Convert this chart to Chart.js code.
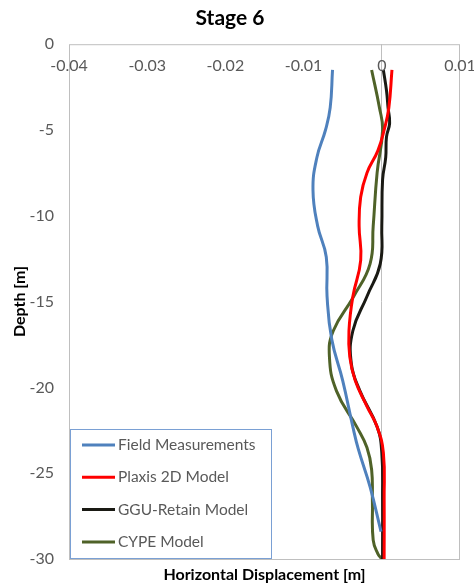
<!DOCTYPE html>
<html>
<head>
<meta charset="utf-8">
<script src="https://cdn.jsdelivr.net/npm/chart.js@4.4.1/dist/chart.umd.min.js"></script>
<style>
  html, body { margin: 0; padding: 0; background: #fff; }
  #wrap { width: 474px; height: 586px; }
</style>
</head>
<body>
<div id="wrap"><canvas id="chart" width="474" height="586"></canvas></div>
<script>
// valeurs (profondeur en m, deplacement en m)
const fieldDepth = [-1.5, -3.7, -5.0, -6.6, -8.5, -10.6, -12.4, -14.7, -17.2, -19.6, -22.3, -23.6, -25.8, -28.4];
const fieldDisp  = [-0.0063, -0.0066, -0.0072, -0.0083, -0.0088, -0.0082, -0.0071, -0.0070, -0.0064, -0.0050, -0.0037, -0.0030, -0.0015, -0.0001];

const plaxisDepth = [-1.5, -3.7, -5.0, -6.2, -7.5, -8.9, -10.6, -12.6, -14.7, -16.7, -18.2, -19.6, -21.1, -22.3, -23.8, -26.5, -30];
const plaxisDisp  = [0.0013, 0.0009, 0.0003, -0.0005, -0.0019, -0.0027, -0.0029, -0.0027, -0.0037, -0.0042, -0.0041, -0.0034, -0.0019, -0.0006, 0.0002, 0.0003, 0.0003];

const gguDepth = [-1.5, -2.7, -3.7, -4.6, -5.4, -6.6, -7.9, -10.6, -12.8, -14.7, -16.7, -18.6, -20.2, -22.3, -23.8, -26.5, -30];
const gguDisp  = [0.0002, 0.0006, 0.0008, 0.0010, 0.0006, 0.0005, 0.0001, 0.0000, -0.0002, -0.0019, -0.0037, -0.0039, -0.0028, -0.0006, 0.0000, 0.0001, 0.0001];

const cypeDepth = [-1.5, -3.7, -5.0, -7.5, -10.6, -12.8, -14.7, -16.7, -18.2, -20.2, -22.3, -23.5, -24.8, -26.7, -28.9, -29.7, -30];
const cypeDisp  = [-0.0013, -0.0003, 0.0001, -0.0006, -0.0011, -0.0015, -0.0036, -0.0062, -0.0067, -0.0058, -0.0032, -0.0019, -0.0013, -0.0012, -0.0011, -0.0005, 0.0000];

const seriesNames  = ['Field Measurements', 'Plaxis 2D Model', 'GGU-Retain Model', 'CYPE Model'];
const seriesColors = ['#4f81bd', '#ff0000', '#1a1a14', '#4f6228'];

const xTickValues = [-0.04, -0.03, -0.02, -0.01, 0, 0.01];
const xTickLabels = ['-0.04', '-0.03', '-0.02', '-0.01', '0', '0.01'];

const FONT = 'Lato, Calibri, "Noto Sans", sans-serif';
const TXT = '#595959';

function toPoints(depth, disp) {
    return depth.map((d, i) => ({ x: disp[i], y: d }));
}

const allDepth = [fieldDepth, plaxisDepth, gguDepth, cypeDepth];
const allDisp = [fieldDisp, plaxisDisp, gguDisp, cypeDisp];

// cadre de la zone de tracé + etiquettes x sous l'axe du haut + légende
const excelDeco = {
    id: 'excelDeco',
    beforeDatasetsDraw(chart) {
        const ctx = chart.ctx;
        const a = chart.chartArea;
        ctx.save();
        ctx.strokeStyle = '#bfbfbf';
        ctx.lineWidth = 1;
        ctx.strokeRect(a.left + 0.5, a.top + 0.5, a.right - a.left - 1, a.bottom - a.top);
        ctx.restore();
    },
    afterDatasetsDraw(chart) {
        const ctx = chart.ctx;
        const a = chart.chartArea;
        const xs = chart.scales.x;
        ctx.save();
        ctx.font = '16px ' + FONT;
        ctx.fillStyle = TXT;
        ctx.textAlign = 'center';
        ctx.textBaseline = 'middle';
        xTickValues.forEach((v, i) => {
            ctx.fillText(xTickLabels[i], xs.getPixelForValue(v), a.top + 22);
        });

        // légende
        const bx = 70, by = 429, bw = 201, bh = 129;
        ctx.fillStyle = '#fff';
        ctx.fillRect(bx, by, bw, bh);
        ctx.strokeStyle = '#7aa0d4';
        ctx.lineWidth = 1;
        ctx.strokeRect(bx + 0.5, by + 0.5, bw, bh);
        ctx.textAlign = 'left';
        ctx.font = '15.5px ' + FONT;
        seriesNames.forEach((name, i) => {
            const yy = 445 + i * 32.3;
            ctx.strokeStyle = seriesColors[i];
            ctx.lineWidth = 3;
            ctx.beginPath();
            ctx.moveTo(82, yy);
            ctx.lineTo(115, yy);
            ctx.stroke();
            ctx.fillStyle = TXT;
            ctx.fillText(name, 118, yy);
        });
        ctx.restore();
    }
};

const ctx = document.getElementById('chart').getContext('2d');
new Chart(ctx, {
    type: 'scatter',
    data: {
        datasets: seriesNames.map((name, i) => ({
            label: name,
            data: toPoints(allDepth[i], allDisp[i]),
            showLine: true,
            borderColor: seriesColors[i],
            backgroundColor: seriesColors[i],
            borderWidth: 3,
            pointRadius: 0,
            tension: 0.45,
            fill: false
        }))
    },
    options: {
        responsive: false,
        animation: false,
        layout: { padding: { left: 0, right: 14, top: 0, bottom: 0 } },
        plugins: {
            legend: { display: false },
            tooltip: { enabled: false },
            title: {
                display: true,
                text: 'Stage 6',
                color: '#000',
                font: { family: FONT, size: 21, weight: 'bold' },
                padding: { top: 6, bottom: 13 }
            }
        },
        scales: {
            x: {
                type: 'linear',
                position: 'bottom',
                min: -0.04,
                max: 0.01,
                ticks: { display: false, stepSize: 0.01 },
                border: { display: false },
                grid: {
                    drawTicks: false,
                    color: c => (Math.abs(c.tick.value) < 1e-9 ? '#bfbfbf' : 'rgba(0,0,0,0)')
                },
                title: {
                    display: true,
                    text: 'Horizontal Displacement [m]',
                    color: '#000',
                    font: { family: FONT, size: 16, weight: 'bold' },
                    padding: { top: 0, bottom: 2 }
                },
                afterFit: s => { s.height = 27; }
            },
            y: {
                type: 'linear',
                min: -30,
                max: 0,
                ticks: {
                    stepSize: 5,
                    color: TXT,
                    padding: 15,
                    font: { family: FONT, size: 16 }
                },
                border: { display: false },
                grid: { display: false, drawTicks: false },
                title: {
                    display: true,
                    text: 'Depth [m]',
                    color: '#000',
                    font: { family: FONT, size: 16, weight: 'bold' },
                    padding: { top: 10, bottom: 0 }
                },
                afterFit: s => { s.width = 69; }
            }
        }
    },
    plugins: [excelDeco]
});
</script>
</body>
</html>
